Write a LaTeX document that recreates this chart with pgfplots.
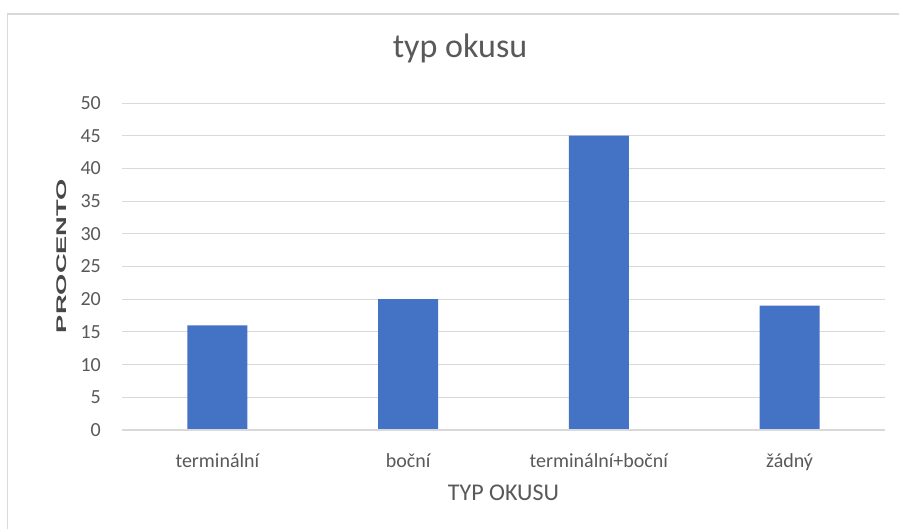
\documentclass[border=0pt]{standalone}
\usepackage{pgfplots}
\pgfplotsset{compat=1.18}
\usepackage{fontspec}
\setmainfont{Carlito}
\newfontfamily\labfont{Liberation Sans}
\definecolor{txt}{HTML}{595959}
\definecolor{grid}{HTML}{D9D9D9}
\definecolor{barc}{HTML}{4472C4}
\begin{document}
\begin{tikzpicture}[x=1pt,y=1pt]
\clip (0,0) rectangle (899,528);
\fill[white] (0,0) rectangle (899,528);
\draw[color=grid, line width=1.5pt] (7.5,-10) rectangle (912,514);
\begin{axis}[
  at={(122pt,98pt)}, anchor=south west,
  scale only axis, width=763pt, height=327pt,
  xmin=-0.5, xmax=3.5, ymin=0, ymax=50,
  ytick={0,5,...,50},
  xtick=data,
  xticklabels={terminální, boční, terminální+boční, žádný},
  axis line style={draw=none},
  major tick length=0pt,
  ymajorgrids, grid style={color=grid, line width=1pt},
  /pgf/number format/assume math mode=true,
  tick label style={color=txt, font=\fontsize{20}{22}\selectfont},
  yticklabel style={anchor=east, inner sep=0pt, xshift=-21pt},
  xticklabel style={anchor=base, inner sep=0pt, yshift=-37pt},
  ybar, bar width=60pt,
  title={typ okusu},
  title style={at={(axis description cs:0.443,1.1223)}, anchor=base, inner sep=0pt, color=txt, font=\fontsize{34}{38}\selectfont},
  xlabel={TYP OKUSU},
  xlabel style={at={(axis description cs:0.5,-0.2171)}, anchor=base, inner sep=0pt, color=txt, font=\fontsize{24}{26}\selectfont},
  ylabel={\scalebox{1.95}[1]{\labfont\bfseries PROCENTO}},
  ylabel style={at={(axis description cs:-0.0786,0.532)}, anchor=center, inner sep=0pt, rotate=0, color=black!72, font=\fontsize{14}{16}\selectfont},
  clip=false,
]
\addplot[fill=barc, draw=none] coordinates {(0,16) (1,20) (2,45) (3,19)};
\draw[color=grid, line width=1.5pt] (axis cs:-0.5,0) -- (axis cs:3.5,0);
\end{axis}
\end{tikzpicture}
\end{document}
